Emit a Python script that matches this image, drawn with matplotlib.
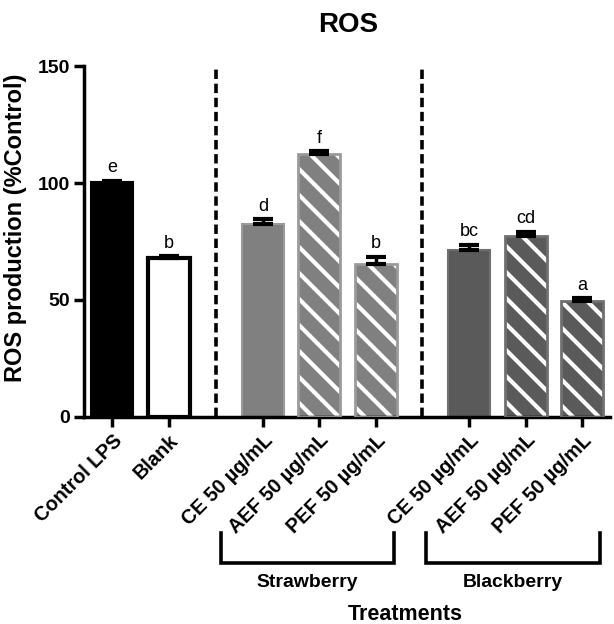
import matplotlib
matplotlib.use("Agg")
import matplotlib.pyplot as plt
import matplotlib.transforms as mtransforms

DPI = 78
K = 100 / DPI  # keeps sizes calibrated to 100-dpi points

plt.rcParams['font.family'] = ['Liberation Sans', 'DejaVu Sans']
plt.rcParams['hatch.linewidth'] = 3.0 * K

categories = ["Control LPS", "Blank", "CE 50 µg/mL", "AEF 50 µg/mL", "PEF 50 µg/mL",
              "CE 50 µg/mL", "AEF 50 µg/mL", "PEF 50 µg/mL"]
values = [100.5, 68.0, 82.5, 112.5, 65.5, 71.5, 77.5, 49.5]
errors = [0.5, 0.6, 2.0, 1.0, 3.0, 2.0, 1.5, 1.2]
letters = ["e", "b", "d", "f", "b", "bc", "cd", "a"]
groups = ["Strawberry", "Blackberry"]

positions = [0, 1, 2.67, 3.67, 4.67, 6.33, 7.33, 8.33]
faces = ["black", "white", "#808080", "#808080", "#808080", "#5a5a5a", "#5a5a5a", "#5a5a5a"]
edges = ["black", "black", "#9a9a9a", "#9a9a9a", "#9a9a9a", "#707070", "#707070", "#707070"]
hatched = [False, False, False, True, True, False, True, True]

fig = plt.figure(figsize=(614 / DPI, 624 / DPI), dpi=DPI)
ax = fig.add_axes([0.137, 0.332, 0.856, 0.562])

w = 0.74
for x, v, e, fc, ec, h in zip(positions, values, errors, faces, edges, hatched):
    if h:
        ax.bar(x, v, width=w, color=fc, edgecolor="white", hatch="\\", linewidth=0, zorder=2)
        ax.bar(x, v, width=w, fill=False, edgecolor=ec, linewidth=2 * K, zorder=3)
    else:
        lw = (3 if fc == "white" else 1.5) * K
        ax.bar(x, v, width=w, color=fc, edgecolor=ec, linewidth=lw, zorder=2)
    ax.errorbar(x, v, yerr=[[0], [e]], fmt="none", ecolor="black", elinewidth=2.5 * K,
                capsize=7.5 * K, capthick=3 * K, zorder=4)

for x, v, e, t in zip(positions, values, errors, letters):
    ax.text(x, v + e + 2.0, t, ha="center", va="bottom", fontsize=13 * K)

for xd in [1.83, 5.5]:
    ax.plot([xd, xd], [0, 150], color="black", linestyle=(0, (2.6, 1.3)),
            linewidth=2.6 * K, zorder=1)

ax.set_xlim(-0.5, 8.82)
ax.set_ylim(0, 150)
ax.set_yticks([0, 50, 100, 150])
ax.set_xticks(positions)
ax.set_xticklabels(categories, rotation=45, ha="right", rotation_mode="anchor",
                   fontsize=14.3 * K, fontweight="bold")
for lab in ax.get_yticklabels():
    lab.set_fontweight("bold")
    lab.set_fontsize(14 * K)
ax.tick_params(axis="both", width=2.5 * K, length=7 * K, direction="out", pad=3 * K)
ax.spines["top"].set_visible(False)
ax.spines["right"].set_visible(False)
ax.spines["left"].set_linewidth(2.5 * K)
ax.spines["bottom"].set_linewidth(2.5 * K)

fig.text(16 / 614, 1 - 228 / 624, "ROS production (%Control)", rotation=90,
         ha="center", va="center", fontsize=17 * K, fontweight="bold")
fig.text(348 / 614, 1 - 25 / 624, "ROS", ha="center", va="center",
         fontsize=20 * K, fontweight="bold")

trans = mtransforms.blended_transform_factory(ax.transData, fig.transFigure)
y_top = 1 - 533 / 624
y_bot = 1 - 563 / 624
brackets = [(1.93, 5.0), (5.56, 8.64)]
for (xl, xr), g in zip(brackets, groups):
    ax.plot([xl, xl, xr, xr], [y_top, y_bot, y_bot, y_top], transform=trans,
            color="black", linewidth=2.6 * K, clip_on=False, solid_joinstyle="miter")
    ax.text((xl + xr) / 2, 1 - 587 / 624, g, transform=trans, ha="center", va="baseline",
            fontsize=14 * K, fontweight="bold")

fig.text(405 / 614, 1 - 620 / 624, "Treatments", ha="center", va="baseline",
         fontsize=15.5 * K, fontweight="bold")

fig.savefig("out.png", dpi=DPI)
